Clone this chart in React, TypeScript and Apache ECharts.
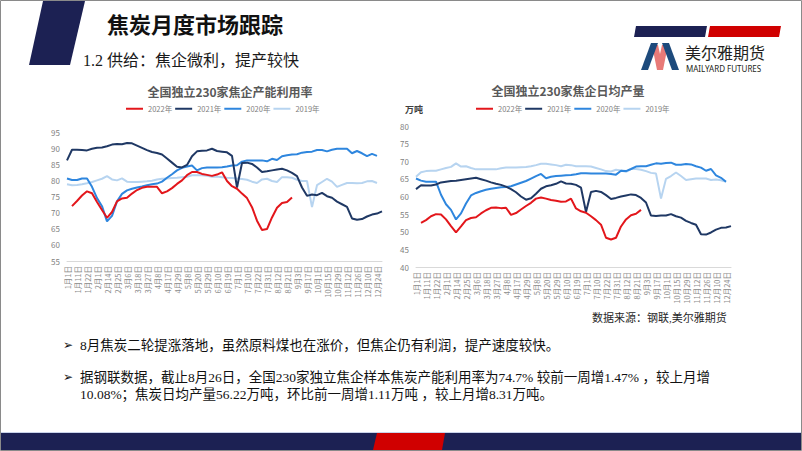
import React, { useEffect, useRef } from "react";
import * as echarts from "echarts";

const dates = [
  "1月1日", "1月6日", "1月11日", "1月16日", "1月22日", "1月27日", "2月1日", "2月7日",
  "2月14日", "2月19日", "2月25日", "3月1日", "3月6日", "3月12日", "3月18日", "3月22日",
  "3月27日", "4月2日", "4月8日", "4月12日", "4月17日", "4月23日", "4月29日", "5月3日",
  "5月8日", "5月14日", "5月20日", "5月24日", "5月29日", "6月4日", "6月10日", "6月14日",
  "6月19日", "6月25日", "7月1日", "7月5日", "7月10日", "7月16日", "7月22日", "7月26日",
  "7月31日", "8月5日", "8月12日", "8月16日", "8月21日", "8月26日", "9月3日", "9月10日",
  "9月17日", "9月24日", "10月1日", "10月8日", "10月15日", "10月22日", "10月29日", "11月5日",
  "11月12日", "11月19日", "11月26日", "12月3日", "12月10日", "12月17日", "12月24日", "12月31日",
];

const seriesNames = ["2022年", "2021年", "2020年", "2019年"];

const N = null;
const tail18 = [N, N, N, N, N, N, N, N, N, N, N, N, N, N, N, N, N, N];

// 产能利用率 (%)
const rate2022 = [
  N, 72.0, 73.6, 75.3, 76.6, 76.0, 73.3, 70.8, 68.4, 70.2, 73.5, 74.4, 74.6, 75.9, 77.0, 77.7,
  78.0, 78.0, 78.0, 76.0, 76.6, 77.6, 78.9, 80.0, 81.6, 82.6, 82.6, 82.0, 81.7, 81.4, 81.8, 82.5,
  79.8, 78.2, 77.4, 75.9, 74.5, 71.7, 67.5, 64.6, 64.9, 68.5, 71.5, 73.0, 73.3, 74.7, ...tail18,
];
const rate2021 = [
  86.2, 89.5, 89.5, 89.4, 89.3, 89.8, 90.1, 90.2, 90.6, 91.1, 91.3, 91.2, 91.6, 91.5, 90.8, 90.1,
  89.4, 88.8, 88.5, 88.0, 86.8, 85.5, 84.2, 84.0, 84.8, 87.5, 89.0, 89.2, 89.3, 89.8, 89.1, 88.9,
  88.7, 87.6, 77.8, 85.4, 85.5, 85.1, 84.0, 82.6, 82.8, 83.1, 83.4, 83.6, 83.1, 82.3, 81.3, 77.8,
  75.2, 75.6, 75.4, 76.1, 75.1, 74.6, 73.4, 72.6, 71.8, 68.2, 67.8, 68.0, 68.8, 69.4, 69.7, 70.4,
];
const rate2020 = [
  80.6, 80.1, 80.1, 80.6, 80.6, 78.0, 74.5, 72.0, 67.3, 69.0, 73.5, 75.8, 76.9, 77.4, 77.8, 78.1,
  78.5, 78.8, 79.0, 79.6, 80.8, 81.9, 83.1, 83.9, 84.3, 84.6, 83.1, 83.8, 84.0, 84.0, 84.0, 84.1,
  84.3, 84.6, 84.7, 85.8, 86.2, 86.2, 86.2, 86.2, 85.9, 86.7, 86.3, 87.5, 87.8, 88.0, 88.1, 88.6,
  88.8, 88.9, 89.4, 89.4, 89.0, 89.5, 89.8, 89.8, 89.8, 88.4, 89.1, 88.4, 87.5, 88.2, 87.6, N,
];
const rate2019 = [
  78.8, 78.5, 78.6, 78.8, 79.1, 79.5, 80.0, 80.5, 81.3, 80.3, 80.0, 80.6, 79.6, 79.5, 79.5, 79.6,
  79.7, 79.9, 80.3, 80.5, 80.6, 80.7, 80.8, 81.0, 81.1, 81.6, 81.6, 81.6, 81.4, 81.1, 81.2, 81.0,
  80.8, 80.7, 80.6, 80.4, 80.2, 79.6, 79.2, 80.3, 80.5, 79.8, 79.5, 81.0, 81.0, 80.8, 80.2, 79.8,
  79.8, 71.7, 78.5, 79.5, 80.5, 79.6, 78.0, 78.6, 79.2, 79.2, 79.1, 79.2, 79.7, 79.8, 79.2, N,
];

// 日均产量 (万吨)
const output2022 = [
  N, 52.5, 53.3, 54.4, 55.0, 54.9, 53.5, 51.6, 49.8, 51.5, 53.3, 53.9, 54.1, 55.2, 56.1, 56.8,
  56.9, 56.7, 56.8, 54.8, 55.3, 56.3, 57.3, 58.2, 59.4, 59.7, 59.4, 59.0, 58.8, 58.5, 58.6, 59.4,
  56.6, 55.8, 55.4, 54.4, 53.3, 52.0, 48.3, 47.8, 48.3, 51.5, 53.5, 54.7, 55.1, 56.2, ...tail18,
];
const output2021 = [
  62.1, 63.2, 63.1, 63.1, 63.4, 64.0, 64.2, 64.4, 64.5, 64.7, 64.9, 65.1, 65.3, 64.9, 64.5, 64.0,
  63.6, 63.3, 62.8, 62.1, 61.2, 60.0, 59.1, 59.5, 60.8, 62.2, 62.9, 63.2, 63.6, 64.3, 63.7, 63.6,
  63.3, 62.5, 55.6, 61.3, 61.6, 61.3, 60.4, 59.3, 59.6, 60.0, 60.3, 60.6, 60.4, 59.6, 58.3, 54.6,
  54.5, 54.6, 54.6, 55.0, 54.4, 54.0, 53.1, 52.5, 52.0, 49.3, 49.2, 49.8, 50.6, 51.1, 51.2, 51.6,
];
const output2020 = [
  65.1, 64.5, 64.2, 64.2, 64.2, 60.5, 57.8, 56.2, 53.5, 55.2, 58.0, 60.3, 61.0, 61.5, 61.9, 62.2,
  62.4, 62.6, 62.7, 62.9, 63.4, 63.9, 64.4, 65.1, 65.8, 66.4, 65.2, 65.6, 65.8, 65.9, 66.0, 66.1,
  66.3, 66.6, 66.6, 66.5, 66.5, 66.5, 66.5, 66.4, 66.2, 67.3, 67.2, 67.8, 68.5, 68.6, 68.6, 69.0,
  69.4, 69.3, 69.5, 69.6, 69.0, 69.0, 69.2, 69.1, 68.6, 68.2, 67.3, 67.8, 66.0, 65.3, 64.2, N,
];
const output2019 = [
  65.6, 66.9, 67.2, 67.3, 67.3, 67.7, 68.1, 68.4, 69.4, 68.5, 68.6, 68.1, 67.7, 67.7, 67.7, 67.7,
  67.7, 68.0, 68.2, 68.2, 68.2, 68.3, 68.4, 68.6, 68.9, 69.3, 69.3, 69.1, 68.9, 68.6, 69.0, 68.9,
  68.6, 68.6, 68.6, 68.5, 68.1, 67.7, 67.2, 67.1, 67.6, 67.4, 67.0, 67.8, 67.8, 67.6, 67.2, 66.7,
  66.5, 59.4, 65.0, 65.8, 66.8, 65.8, 64.7, 64.9, 65.1, 65.1, 65.1, 64.7, 64.8, 64.6, 64.2, N,
];

const slideTitle = "焦炭月度市场跟踪";
const sectionTitle = "1.2 供给：焦企微利，提产较快";
const leftTitle = "全国独立230家焦企产能利用率";
const rightTitle = "全国独立230家焦企日均产量";
const rightUnit = "万吨";
const sourceNote = "数据来源：钢联,美尔雅期货";
const bullet1 = "8月焦炭二轮提涨落地，虽然原料煤也在涨价，但焦企仍有利润，提产速度较快。";
const bullet2a = "据钢联数据，截止8月26日，全国230家独立焦企样本焦炭产能利用率为74.7% 较前一周增1.47% ，较上月增";
const bullet2b = "10.08%；焦炭日均产量56.22万吨，环比前一周增1.11万吨 ，较上月增8.31万吨。";

const COLORS: Record<string, string> = {
  "2022年": "#E3161B",
  "2021年": "#1F3864",
  "2020年": "#2E86DE",
  "2019年": "#B7D4F0",
};
const NAVY = "#1C2153";
const RED = "#D00000";
const SANS = '"Noto Sans CJK SC", "Noto Sans", sans-serif';
const SERIF = '"Liberation Serif", "Noto Sans CJK SC", serif';

function txt(text: string, x: number, y: number, font: string, fill: string, align = "left") {
  return {
    type: "text",
    x,
    y,
    silent: true,
    style: {
      text,
      font,
      fill,
      textAlign: align,
      align,
      textVerticalAlign: "middle",
      verticalAlign: "middle",
    },
  };
}

export default function App() {
  const ref = useRef<HTMLDivElement>(null);

  useEffect(() => {
    if (!ref.current) return;
    const chart = echarts.init(ref.current, null, { renderer: "svg" });

    const mkSeries = (name: string, data: (number | null)[], gi: number, z: number) => ({
      name,
      type: "line",
      xAxisIndex: gi,
      yAxisIndex: gi,
      data,
      symbol: "none",
      showSymbol: false,
      connectNulls: false,
      z,
      lineStyle: { color: COLORS[name], width: 2 },
      itemStyle: { color: COLORS[name] },
    });

    const xAxisBase = (gi: number) => ({
      type: "category",
      gridIndex: gi,
      data: dates,
      boundaryGap: false,
      axisLine: { show: true, lineStyle: { color: "#D9D9D9", width: 1 } },
      axisTick: { show: false },
      splitLine: { show: false },
      axisLabel: {
        interval: 1,
        rotate: 90,
        fontSize: 7.5,
        color: "#8C8C8C",
        margin: 5,
        fontFamily: SANS,
      },
    });

    const yAxisBase = (gi: number, min: number, max: number) => ({
      type: "value",
      gridIndex: gi,
      min,
      max,
      interval: 5,
      axisLine: { show: false },
      axisTick: { show: false },
      splitLine: { show: false },
      axisLabel: { fontSize: 8, color: "#7F7F7F", margin: 7, fontFamily: SANS },
    });

    const legendBase = (left: number) => ({
      data: seriesNames,
      left,
      top: 105,
      padding: 0,
      icon: "rect",
      itemWidth: 17,
      itemHeight: 2,
      itemGap: 3,
      selectedMode: false,
      textStyle: { fontSize: 7.5, color: "#808080", fontFamily: SANS },
    });

    const option: any = {
      animation: false,
      textStyle: { fontFamily: SANS },
      grid: [
        { left: 67, top: 132, width: 315, height: 129, containLabel: false },
        { left: 416, top: 126, width: 315, height: 141, containLabel: false },
      ],
      xAxis: [xAxisBase(0), xAxisBase(1)],
      yAxis: [yAxisBase(0, 55, 95), yAxisBase(1, 40, 80)],
      legend: [legendBase(126), legendBase(476)],
      series: [
        mkSeries("2019年", rate2019, 0, 2),
        mkSeries("2020年", rate2020, 0, 3),
        mkSeries("2021年", rate2021, 0, 4),
        mkSeries("2022年", rate2022, 0, 5),
        mkSeries("2019年", output2019, 1, 2),
        mkSeries("2020年", output2020, 1, 3),
        mkSeries("2021年", output2021, 1, 4),
        mkSeries("2022年", output2022, 1, 5),
      ],
      graphic: [
        {
          type: "rect",
          silent: true,
          shape: { x: 0.5, y: 0.5, width: 801, height: 450 },
          style: { fill: "none", stroke: "#8A8A8A", lineWidth: 1 },
        },
        {
          type: "polygon",
          silent: true,
          shape: { points: [[43, 1], [85, 1], [70, 65], [29, 65]] },
          style: { fill: NAVY },
        },
        txt(slideTitle, 107, 23, `bold 22px ${SANS}`, "#111111"),
        txt(sectionTitle, 83, 60, `16px ${SERIF}`, "#1A1A1A"),
        {
          type: "polygon",
          silent: true,
          shape: { points: [[636, 26], [707, 26], [705, 37], [634, 37]] },
          style: { fill: NAVY },
        },
        {
          type: "polygon",
          silent: true,
          shape: { points: [[710, 26], [781, 26], [779, 37], [708, 37]] },
          style: { fill: RED },
        },
        {
          type: "polygon",
          silent: true,
          shape: { points: [[652, 45], [658, 45], [660, 54], [662, 45], [668, 45], [663, 70], [657, 70]] },
          style: { fill: "#E87A78" },
        },
        {
          type: "polygon",
          silent: true,
          shape: { points: [[641, 70], [648, 70], [658, 43], [651, 43]] },
          style: { fill: "#1D4A7C" },
        },
        {
          type: "polygon",
          silent: true,
          shape: { points: [[662, 43], [669, 43], [679, 70], [672, 70]] },
          style: { fill: "#1D4A7C" },
        },
        txt("美尔雅期货", 685, 52, `16px ${SANS}`, "#231F20"),
        txt("MAILYARD FUTURES", 686, 68.5, `8px "Noto Sans", sans-serif`, "#231F20"),
        txt(leftTitle, 230, 91, `bold 12px ${SANS}`, "#595959", "center"),
        txt(rightTitle, 568, 90, `bold 12px ${SANS}`, "#595959", "center"),
        txt(rightUnit, 405, 109, `bold 9px ${SANS}`, "#404040"),
        txt(sourceNote, 592, 318, `11px ${SERIF}`, "#262626"),
        txt("➢", 63, 345, `12px "DejaVu Sans", sans-serif`, "#111111"),
        txt(bullet1, 80, 345, `13.5px ${SERIF}`, "#111111"),
        txt("➢", 63, 377, `12px "DejaVu Sans", sans-serif`, "#111111"),
        txt(bullet2a, 80, 377, `13.5px ${SERIF}`, "#111111"),
        txt(bullet2b, 80, 394, `13.5px ${SERIF}`, "#111111"),
        {
          type: "rect",
          silent: true,
          shape: { x: 1, y: 432, width: 800, height: 18 },
          style: { fill: NAVY },
        },
        {
          type: "rect",
          silent: true,
          shape: { x: 1, y: 432, width: 800, height: 1 },
          style: { fill: "#C9D3EA" },
        },
        {
          type: "polygon",
          silent: true,
          shape: { points: [[377, 433], [445, 433], [442, 450], [373, 450]] },
          style: { fill: RED },
        },
      ],
    };

    chart.setOption(option);
    return () => chart.dispose();
  }, []);

  return (
    <div
      ref={ref}
      style={{ position: "absolute", left: 0, top: 0, width: 802, height: 451, background: "#FFFFFF" }}
    />
  );
}
